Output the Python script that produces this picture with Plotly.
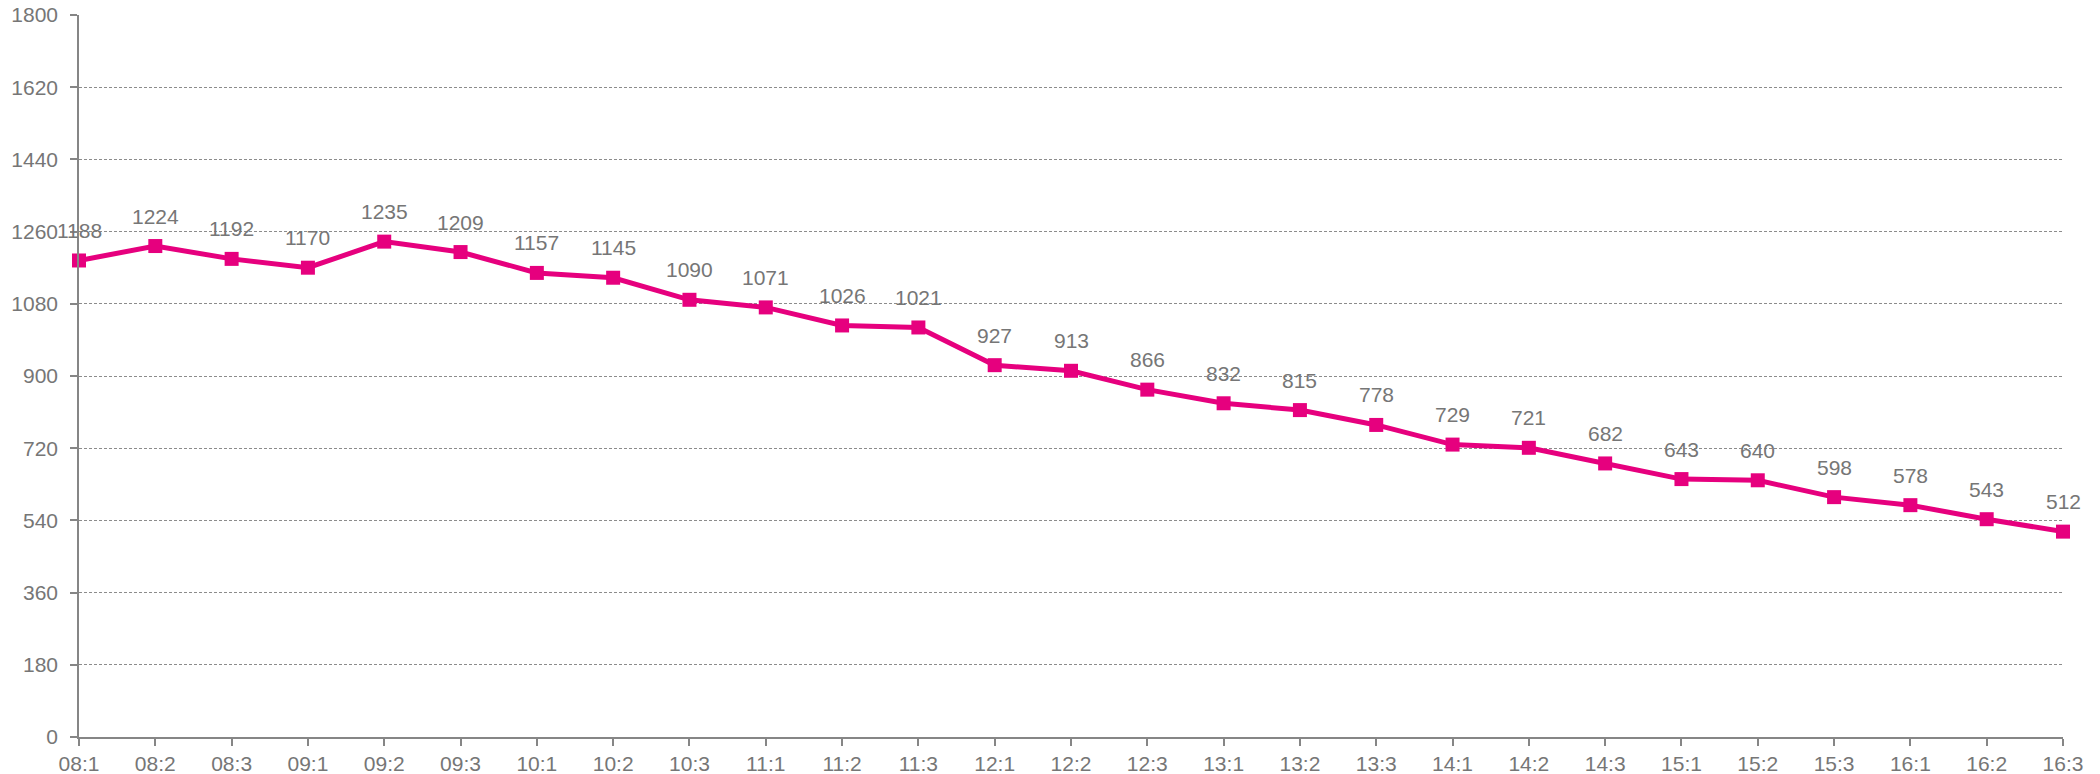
import plotly.graph_objects as go

categories = ["08:1", "08:2", "08:3", "09:1", "09:2", "09:3", "10:1", "10:2", "10:3",
              "11:1", "11:2", "11:3", "12:1", "12:2", "12:3", "13:1", "13:2", "13:3",
              "14:1", "14:2", "14:3", "15:1", "15:2", "15:3", "16:1", "16:2", "16:3"]
values = [1188, 1224, 1192, 1170, 1235, 1209, 1157, 1145, 1090,
          1071, 1026, 1021, 927, 913, 866, 832, 815, 778,
          729, 721, 682, 643, 640, 598, 578, 543, 512]
y_ticks = [0, 180, 360, 540, 720, 900, 1080, 1260, 1440, 1620, 1800]

MAG = "#E6007E"
GRAY = "#767676"
FONT = "Liberation Sans, Arial, sans-serif"

xs = list(range(len(categories)))

fig = go.Figure()
fig.add_trace(go.Scatter(
    x=xs, y=values, mode="lines+markers",
    line=dict(color=MAG, width=5),
    marker=dict(symbol="square", size=14, color=MAG),
    hoverinfo="skip", showlegend=False, cliponaxis=False,
))

annotations = []
for x, v in zip(xs, values):
    annotations.append(dict(
        x=x, y=v, xref="x", yref="y", text=str(v), showarrow=False,
        yshift=30, yanchor="middle", xanchor="center",
        font=dict(family=FONT, size=21, color=GRAY),
    ))

fig.update_layout(
    width=2100, height=774,
    margin=dict(l=79, r=37, t=15, b=37, autoexpand=False),
    paper_bgcolor="white", plot_bgcolor="white",
    font=dict(family=FONT, size=21, color=GRAY),
    annotations=annotations,
    xaxis=dict(
        range=[0, len(categories) - 1], tickvals=xs, ticktext=categories,
        automargin=False,
        showgrid=False, zeroline=False, showline=True, linecolor="#868686", linewidth=1.5,
        ticks="outside", ticklen=7, tickcolor="#868686", tickwidth=1.5,
        tickfont=dict(family=FONT, size=21, color=GRAY),
    ),
    yaxis=dict(
        range=[0, 1800], tickvals=y_ticks, automargin=False,
        showgrid=True, gridcolor="#8c8c8c", gridwidth=1, griddash="3px,2px",
        zeroline=False, showline=True, linecolor="#868686", linewidth=1.5,
        ticks="outside", ticklen=7, tickcolor="#868686", tickwidth=1.5,
        ticklabelstandoff=8,
        tickfont=dict(family=FONT, size=21, color=GRAY),
    ),
)

fig.write_html(
    "out.html",
    config={"displayModeBar": False},
    post_script="document.body.style.margin='0';document.body.style.overflow='hidden';",
)
